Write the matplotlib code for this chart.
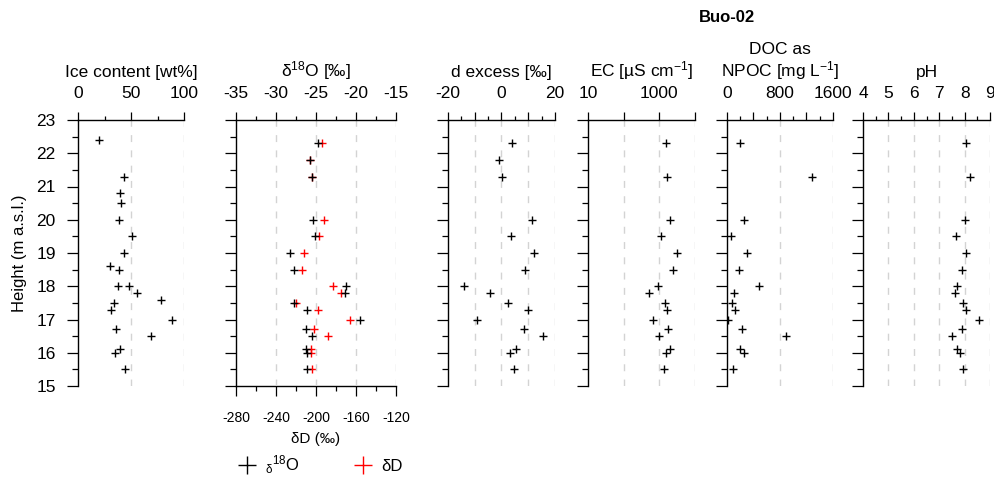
import matplotlib
matplotlib.use("Agg")
import matplotlib.pyplot as plt
from matplotlib.lines import Line2D
from matplotlib.ticker import LogLocator, NullFormatter

plt.rcParams.update({
    "font.family": ["Liberation Sans", "DejaVu Sans"],
    "font.size": 12.5,
    "axes.unicode_minus": False,
    "mathtext.fontset": "custom",
    "mathtext.rm": "Liberation Sans",
    "mathtext.it": "Liberation Sans:italic",
    "mathtext.default": "regular",
})

# ---- data (height in m a.s.l.) ----
ice_h = [22.4, 21.3, 20.8, 20.5, 20.0, 19.5, 19.0, 18.6, 18.5, 18.0, 18.0,
         17.8, 17.6, 17.5, 17.3, 17.0, 16.7, 16.5, 16.1, 16.0, 15.5]
ice = [20, 43, 40, 41, 39, 50.5, 43, 30, 39, 37.5, 48,
       55.5, 78, 34, 31.5, 89, 36, 69, 40, 35, 44]

iso_h = [22.3, 21.8, 21.3, 20.0, 19.5, 19.0, 18.5, 18.0, 17.8, 17.5, 17.3,
         17.0, 16.7, 16.5, 16.1, 16.0, 15.5]
d18o = [-24.8, -25.8, -25.5, -25.4, -25.1, -28.2, -27.8, -21.2, -21.4, -27.8,
        -26.1, -19.5, -26.2, -25.5, -26.2, -26.1, -26.1]
dD = [-193.7, -205.7, -203.7, -191.7, -197.0, -212.3, -213.7, -182.7, -175.0,
      -220.0, -198.3, -166.0, -201.7, -188.3, -204.7, -204.7, -203.7]
dexcess = [3.8, -0.8, 0.1, 11.4, 3.4, 12.2, 8.8, -14.1, -4.3, 2.5, 10.0,
           -9.1, 8.4, 15.4, 5.3, 3.1, 4.8]

chem_h = [22.3, 21.3, 20.0, 19.5, 19.0, 18.5, 18.0, 17.8, 17.5, 17.3, 17.0,
          16.7, 16.5, 16.1, 16.0, 15.5]
ec = [1500, 1600, 2020, 1110, 3180, 2400, 910, 510, 1430, 1630, 660,
      1700, 970, 1980, 1560, 1320]
doc = [200, 1280, 255, 65, 295, 180, 485, 100, 70, 125, 15,
       220, 890, 200, 255, 90]
ph = [8.04, 8.21, 8.02, 7.68, 8.07, 7.90, 7.72, 7.61, 7.95, 8.07, 8.57,
      7.91, 7.52, 7.69, 7.82, 7.95]

W, H = 995, 483
fig = plt.figure(figsize=(W / 100, H / 100), dpi=100)

y_top, y_bot = 120, 386
GRID = dict(color="#d3d3d3", lw=1.0, ls=(0, (5, 6)))


def make_panel(x0, x1, xlim, label, majors, labels, minors=None, log=False, grid=None):
    ax = fig.add_axes([x0 / W, 1 - y_bot / H, (x1 - x0) / W, (y_bot - y_top) / H])
    if log:
        ax.set_xscale("log")
    ax.set_xlim(*xlim)
    ax.set_ylim(15, 23)
    for s in ("right", "bottom"):
        ax.spines[s].set_visible(False)
    for s in ("left", "top"):
        ax.spines[s].set_linewidth(1.0)
    ax.xaxis.tick_top()
    ax.xaxis.set_label_position("top")
    ax.set_xticks(majors)
    ax.set_xticklabels(labels)
    if log:
        ax.xaxis.set_minor_locator(LogLocator(base=10, subs=range(2, 10)))
        ax.xaxis.set_minor_formatter(NullFormatter())
    elif minors is not None:
        ax.set_xticks(minors, minor=True)
    ax.set_xlabel(label, labelpad=6.5, linespacing=1.15)
    ax.set_yticks(range(15, 24))
    ax.set_yticks([h + 0.5 for h in range(15, 23)], minor=True)
    ax.tick_params(axis="x", which="major", length=6, width=0.9, pad=8)
    ax.tick_params(axis="x", which="minor", length=3, width=0.9)
    ax.tick_params(axis="y", which="major", length=8, width=0.9, pad=8)
    ax.tick_params(axis="y", which="minor", length=4, width=0.9)
    for g in (grid if grid is not None else majors[1:]):
        ax.axvline(g, zorder=0, **GRID)
    return ax


PLUS = dict(ls="none", marker="+", ms=6, mew=1.0)

ax1 = make_panel(78, 184, (0, 100), "Ice content [wt%]", [0, 50, 100], ["0", "50", "100"],
                 minors=[25, 75])
ax1.plot(ice, ice_h, color="black", **PLUS)
ax1.set_ylabel("Height (m a.s.l.)", labelpad=7, fontsize=12)

ax2 = make_panel(236, 396, (-35, -15), "δ$^{18}$O [‰]", [-35, -30, -25, -20, -15],
                 ["-35", "-30", "-25", "-20", "-15"], minors=[-32.5, -27.5, -22.5, -17.5])
ax2.set_yticklabels([])
axd = ax2.twiny()
ax2.xaxis.tick_top()
ax2.xaxis.set_label_position("top")
axd.set_xlim(-280, -120)
for s in ("right", "top", "left"):
    axd.spines[s].set_visible(False)
axd.spines["bottom"].set_visible(True)
axd.spines["bottom"].set_linewidth(1.0)
axd.xaxis.tick_bottom()
axd.xaxis.set_label_position("bottom")
axd.set_xticks([-280, -240, -200, -160, -120])
axd.set_xticks([-260, -220, -180, -140], minor=True)
axd.tick_params(axis="x", which="major", length=7, width=0.9, pad=11, labelsize=10)
axd.tick_params(axis="x", which="minor", length=3.5, width=0.9)
axd.set_xlabel("δD (‰)", labelpad=5, fontsize=11)
axd.plot(dD, iso_h, color="red", **PLUS)
ax2.set_zorder(axd.get_zorder() + 1)
ax2.patch.set_visible(False)
ax2.plot(d18o, iso_h, color="black", **PLUS)

ax3 = make_panel(448, 555, (-20, 20), "d excess [‰]", [-20, -10, 0, 10, 20],
                 ["-20", "", "0", "", "20"], minors=[-15, -5, 5, 15])
ax3.set_yticklabels([])
ax3.plot(dexcess, iso_h, color="black", **PLUS)

ax4 = make_panel(588, 695, (10, 10000), "EC [µS cm$^{-1}$]", [10, 100, 1000, 10000],
                 ["10", "", "1000", ""], log=True)
ax4.set_yticklabels([])
ax4.plot(ec, chem_h, color="black", **PLUS)

ax5 = make_panel(727, 833, (0, 1600), "DOC as\nNPOC [mg L$^{-1}$]", [0, 400, 800, 1200, 1600],
                 ["0", "", "800", "", "1600"], minors=[200, 600, 1000, 1400], grid=[800, 1600])
ax5.set_yticklabels([])
ax5.plot(doc, chem_h, color="black", **PLUS)

ax6 = make_panel(863, 990, (4, 9), "pH", [4, 5, 6, 7, 8, 9],
                 ["4", "5", "6", "7", "8", "9"], minors=[4.5, 5.5, 6.5, 7.5, 8.5])
ax6.set_yticklabels([])
ax6.plot(ph, chem_h, color="black", **PLUS)

fig.text(727 / W, 1 - 18 / H, "Buo-02", ha="center", va="center", fontsize=12, fontweight="bold")

handles = [Line2D([], [], color="black", ls="none", marker="+", ms=13, mew=1.0),
           Line2D([], [], color="red", ls="none", marker="+", ms=13, mew=1.0)]
fig.legend(handles, ["${}_{δ}{}^{18}$O", "δD"], loc="center", bbox_to_anchor=(320 / W, 1 - 465 / H),
           ncol=2, frameon=False, handlelength=1.2, columnspacing=3.2, handletextpad=0.5, fontsize=12)

fig.savefig("out.png", dpi=100)
